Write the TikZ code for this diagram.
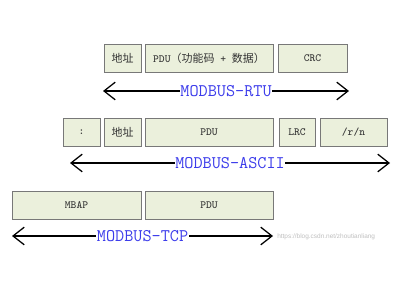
\documentclass[tikz,border=0pt]{standalone}
\usepackage{fontspec}
\setmainfont{Liberation Serif}
\setsansfont{Liberation Sans}
\newfontfamily\cjk{Noto Sans CJK SC}
\usetikzlibrary{arrows.meta}

\definecolor{boxfill}{RGB}{235,240,220}
\definecolor{boxline}{RGB}{120,120,120}
\definecolor{modbusblue}{RGB}{60,60,235}

\tikzset{
  field/.style={draw=boxline, fill=boxfill, inner sep=0pt, minimum height=0.7cm,
    font=\ttfamily\fontsize{7.8}{8}\selectfont, text=black!80},
  frame/.style={{Straight Barb[length=2.8mm,width=4.4mm]}-{Straight Barb[length=2.8mm,width=4.4mm]}, line width=0.9pt},
  busname/.style={fill=white, inner sep=0.3pt, text=modbusblue,
    font=\ttfamily\fontsize{12.6}{13}\selectfont}
}

\begin{document}
\begin{tikzpicture}[x=0.025cm, y=-0.025cm]
\useasboundingbox (0,0) rectangle (400,300);

% MODBUS-RTU
\node[field, minimum width=0.925cm] (rtuaddr) at (122.5,58) {\cjk 地址};
\node[field, minimum width=3.2cm]   (rtupdu)  at (209,58)   {PDU{\cjk（功能码}\ +\ {\cjk 数据）}};
\node[field, minimum width=1.725cm] (rtucrc)  at (312.5,58) {CRC};
\coordinate (rtuL) at (103,91);
\coordinate (rtuR) at (349,91);
\draw[frame] (rtuL) -- (rtuR) node[busname, midway] (rtulbl) {MODBUS-RTU};

% MODBUS-ASCII
\node[field, minimum width=0.925cm] (asccolon) at (81.5,132)  {:};
\node[field, minimum width=0.925cm] (ascaddr)  at (122.5,132) {\cjk 地址};
\node[field, minimum width=3.2cm]   (ascpdu)   at (209,132)   {PDU};
\node[field, minimum width=0.9cm]   (asclrc)   at (297,132)   {LRC};
\node[field, minimum width=1.675cm] (ascend)   at (353.5,132) {/r/n};
\coordinate (ascL) at (70,163);
\coordinate (ascR) at (390,163);
\draw[frame] (ascL) -- (ascR) node[busname, midway] (asclbl) {MODBUS-ASCII};

% MODBUS-TCP
\node[field, minimum width=3.225cm] (tcpmbap) at (76.5,205) {MBAP};
\node[field, minimum width=3.2cm]   (tcppdu)  at (209,205)  {PDU};
\coordinate (tcpL) at (12,236);
\coordinate (tcpR) at (273,236);
\draw[frame] (tcpL) -- (tcpR) node[busname, midway] (tcplbl) {MODBUS-TCP};

\node[anchor=west, inner sep=0pt, text=black!25, font=\sffamily\fontsize{4.6}{5}\selectfont] (mark) at (277,237) {https://blog.csdn.net/zhoutianliang};
\end{tikzpicture}
\end{document}
